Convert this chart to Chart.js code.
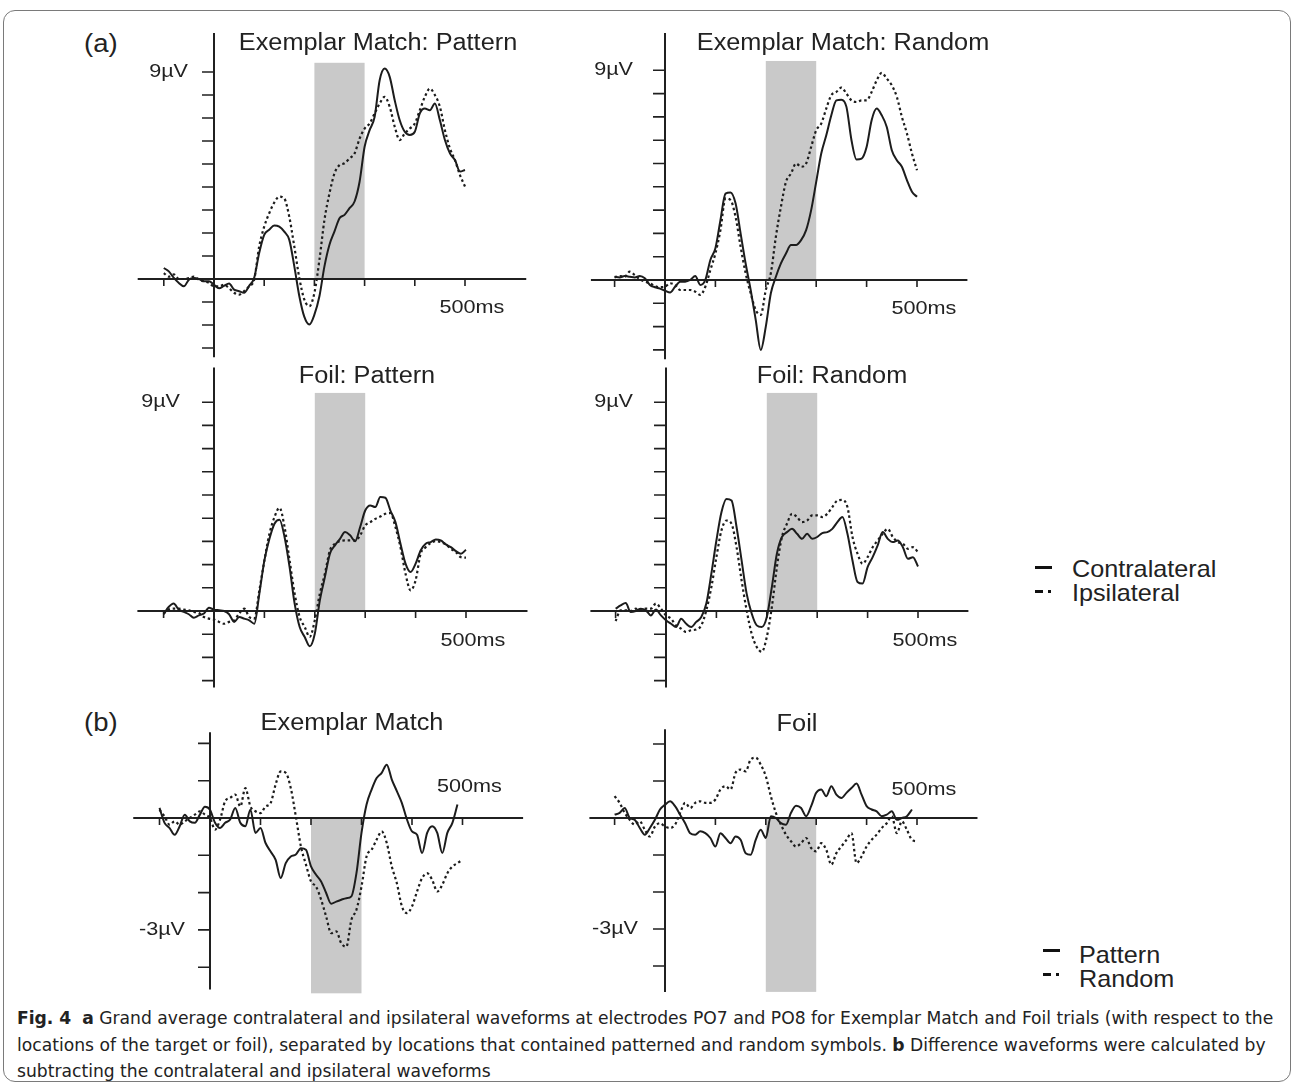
<!DOCTYPE html>
<html>
<head>
<meta charset="utf-8">
<script src="https://cdn.jsdelivr.net/npm/chart.js@4.4.1/dist/chart.umd.min.js"></script>
<style>
  body { margin: 0; background: #fff; }
  #page { position: relative; width: 1295px; height: 1086px; overflow: hidden; font-family: "Liberation Sans", Arial, sans-serif; color: #222; }
  #frame { position: absolute; left: 3px; top: 10px; width: 1288px; height: 1072px; border: 1.5px solid #7a7a7a; border-radius: 12px; box-sizing: border-box; }
  .panel { position: absolute; }
  .title { position: absolute; font-size: 23px; white-space: nowrap; transform: translate(-50%, -50%) scaleX(1.1); }
  .tag { position: absolute; font-size: 25px; white-space: nowrap; transform: translateY(-50%) scaleX(1.1); transform-origin: left center; }
  .leg { position: absolute; font-size: 24px; white-space: nowrap; transform: translateY(-50%) scaleX(1.05); transform-origin: left center; line-height: 1; }
  .sym { position: absolute; background: #111; height: 3px; }
  #caption { position: absolute; left: 17px; top: 1005px; font-family: "Liberation Sans Narrow", "DejaVu Sans Condensed", sans-serif; font-size: 17px; color: #222; transform-origin: left top; }
  #caption div { white-space: nowrap; height: 26.5px; line-height: 26.5px; }
</style>
</head>
<body>
<div id="page">
  <div id="frame"></div>
  <canvas id="c1" class="panel"></canvas>
  <canvas id="c2" class="panel"></canvas>
  <canvas id="c3" class="panel"></canvas>
  <canvas id="c4" class="panel"></canvas>
  <canvas id="c5" class="panel"></canvas>
  <canvas id="c6" class="panel"></canvas>

  <div class="tag" style="left:84px; top:43px;">(a)</div>
  <div class="tag" style="left:84px; top:722px;">(b)</div>

  <div class="title" style="left:378px; top:42px;">Exemplar Match: Pattern</div>
  <div class="title" style="left:843px; top:42px;">Exemplar Match: Random</div>
  <div class="title" style="left:367px; top:375px;">Foil: Pattern</div>
  <div class="title" style="left:832px; top:375px;">Foil: Random</div>
  <div class="title" style="left:352px; top:722px;">Exemplar Match</div>
  <div class="title" style="left:797px; top:723px;">Foil</div>

  <div class="sym" style="left:1035px; top:566px; width:17px;"></div>
  <div class="leg" style="left:1072px; top:569px;">Contralateral</div>
  <div class="sym" style="left:1035px; top:590px; width:8px;"></div>
  <div class="sym" style="left:1048px; top:590px; width:3px;"></div>
  <div class="leg" style="left:1072px; top:593px;">Ipsilateral</div>

  <div class="sym" style="left:1043px; top:949px; width:17px;"></div>
  <div class="leg" style="left:1079px; top:955px;">Pattern</div>
  <div class="sym" style="left:1043px; top:973px; width:8px;"></div>
  <div class="sym" style="left:1056px; top:973px; width:3px;"></div>
  <div class="leg" style="left:1079px; top:979px;">Random</div>

  <div id="caption">
    <div id="capLine1"><b>Fig. 4</b>&nbsp; <b>a</b> Grand average contralateral and ipsilateral waveforms at electrodes PO7 and PO8 for Exemplar Match and Foil trials (with respect to the</div>
    <div>locations of the target or foil), separated by locations that contained patterned and random symbols. <b>b</b> Difference waveforms were calculated by</div>
    <div>subtracting the contralateral and ipsilateral waveforms</div>
  </div>
</div>

<script>
// sample times (ms)
const times = [-100, -90, -80, -70, -60, -50, -40, -30, -20, -10,
  0, 10, 20, 30, 40, 50, 60, 70, 80, 90,
  100, 110, 120, 130, 140, 150, 160, 170, 180, 190,
  200, 210, 220, 230, 240, 250, 260, 270, 280, 290,
  300, 310, 320, 330, 340, 350, 360, 370, 380, 390,
  400, 410, 420, 430, 440, 450, 460, 470, 480, 490, 500];

// (a) Exemplar Match: Pattern (µV)
const emPatternContra = [0.48, 0.33, 0.05, -0.17, -0.32, -0.03, 0.04, 0, -0.1, -0.1,
  -0.25, -0.4, -0.3, -0.2, -0.46, -0.53, -0.6, -0.3, 0.05, 1.13,
  1.92, 2.14, 2.33, 2.28, 2.06, 1.7, 0.55, -0.75, -1.65, -1.98,
  -1.55, -0.75, 0.55, 1.49, 2.07, 2.64, 2.79, 3.08, 3.37, 4.23,
  5.75, 6.47, 7.05, 8.64, 9.15, 8.79, 7.77, 6.9, 6.4, 6.26,
  6.4, 7.2, 7.41, 7.34, 7.63, 6.9, 6.04, 5.46, 5.17, 4.67, 4.74];
const emPatternIpsi = [0.26, 0.1, 0.2, 0, 0, 0.04, 0.1, -0.03, -0.1, -0.17,
  -0.32, -0.32, -0.25, -0.4, -0.6, -0.68, -0.53, -0.32, -0.03, 1.41,
  2.28, 2.86, 3.32, 3.58, 3.5, 2.7, 1.41, 0.04, -0.9, -1.18,
  -0.6, 0.83, 2.57, 3.72, 4.59, 4.95, 5.03, 5.24, 5.46, 6.1,
  6.54, 6.76, 7.2, 7.63, 7.92, 7.49, 6.62, 6.04, 6.33, 6.54,
  6.76, 7.34, 7.92, 8.28, 8.0, 7.49, 6.47, 5.68, 5.17, 4.52, 4.02];

// (a) Exemplar Match: Random
const emRandomContra = [0.14, 0.11, 0.17, 0.14, 0.11, 0.17, 0.07, -0.21, -0.31, -0.37,
  -0.46, -0.54, -0.29, -0.07, -0.07, 0, 0.17, -0.21, 0, 0.86,
  1.36, 2.57, 3.71, 3.76, 3.29, 2.0, 0.71, -0.43, -1.71, -3.0,
  -2.0, -0.57, 0.14, 0.71, 1.14, 1.5, 1.5, 1.71, 2.14, 3.0,
  4.21, 5.43, 6.21, 7.07, 7.71, 7.74, 7.43, 6.0, 5.17, 5.21,
  5.71, 6.86, 7.36, 7.07, 6.57, 5.57, 5.14, 4.86, 4.29, 3.79, 3.57];
const emRandomIpsi = [0.11, 0.17, 0.14, 0.36, 0.21, 0.03, -0.07, -0.14, -0.26, -0.31,
  -0.29, -0.14, -0.21, -0.43, -0.43, -0.43, -0.5, -0.64, -0.29, 0.43,
  1.14, 2.14, 3.5, 3.43, 2.71, 1.43, 0.29, -0.57, -1.29, -1.5,
  -0.43, 0.29, 1.86, 3.14, 4.21, 4.57, 5.0, 4.86, 5.0, 5.71,
  6.43, 6.71, 7.36, 7.93, 8.07, 8.26, 8.0, 7.71, 7.64, 7.71,
  7.71, 8.07, 8.57, 8.89, 8.64, 8.36, 7.86, 7.0, 6.29, 5.43, 4.71];

// (a) Foil: Pattern
const foilPatternContra = [-0.14, 0.17, 0.32, 0.06, -0.04, -0.14, -0.29, -0.19, -0.11, 0.14,
  0.06, 0.03, 0, -0.14, -0.47, -0.26, -0.33, -0.4, -0.55, 0.75,
  2.18, 3.11, 3.76, 3.93, 3.19, 1.89, 0.32, -0.69, -1.12, -1.52,
  -0.98, 0.46, 1.46, 2.47, 2.83, 3.11, 3.4, 3.26, 3.01, 3.62,
  4.33, 4.55, 4.48, 4.91, 4.88, 4.33, 3.83, 2.9, 2.04, 1.68,
  2.04, 2.61, 2.9, 2.97, 3.08, 3.04, 2.87, 2.75, 2.58, 2.47, 2.64];
const foilPatternIpsi = [-0.11, 0.06, 0.1, 0.1, 0.06, 0.03, -0.04, -0.09, -0.26, -0.33,
  -0.37, -0.47, -0.55, -0.47, -0.4, -0.11, 0.1, -0.26, -0.33, 0.89,
  2.18, 3.33, 4.05, 4.45, 3.62, 2.18, 0.75, -0.26, -0.69, -1.12,
  -0.4, 0.75, 1.61, 2.61, 2.9, 3.01, 3.04, 3.04, 3.04, 3.26,
  3.69, 3.83, 3.97, 4.07, 4.19, 4.22, 3.62, 2.75, 1.61, 0.89,
  1.32, 2.47, 2.75, 2.93, 3.01, 2.97, 2.87, 2.68, 2.54, 2.32, 2.3];

// (a) Foil: Random
const foilRandomContra = [0.1, 0.24, 0.34, -0.04, 0, 0.1, 0.03, -0.19, 0.06, -0.19,
  -0.4, -0.55, -0.69, -0.33, -0.55, -0.69, -0.47, -0.26, 0.32, 1.61,
  3.04, 4.26, 4.83, 4.76, 3.62, 2.18, 0.75, -0.11, -0.62, -0.69,
  -0.26, 1.03, 2.47, 3.19, 3.4, 3.54, 3.33, 3.11, 3.33, 3.11,
  3.19, 3.36, 3.4, 3.54, 3.83, 4.05, 3.33, 2.18, 1.25, 1.18,
  1.89, 2.32, 2.83, 3.4, 3.11, 2.97, 3.04, 2.75, 2.25, 2.32, 1.92];
const foilRandomIpsi = [-0.43, 0.03, 0.03, 0, 0.1, 0.03, 0.1, 0.1, 0.32, 0.1,
  -0.19, -0.33, -0.62, -0.76, -0.9, -0.83, -0.8, -0.62, 0.03, 1.03,
  2.32, 3.47, 3.9, 3.76, 2.75, 1.32, 0.03, -0.98, -1.55, -1.76,
  -1.12, 0.17, 1.89, 3.19, 3.76, 4.19, 4.05, 3.83, 3.9, 4.12,
  4.12, 4.05, 4.19, 4.48, 4.76, 4.79, 4.48, 3.19, 2.47, 2.04,
  2.32, 2.75, 3.04, 3.33, 3.54, 3.19, 2.97, 2.9, 2.68, 2.75, 2.54];

// (b) difference waves, Exemplar Match
const diffEmPattern = [0.27, -0.13, -0.27, -0.45, -0.22, 0.09, -0.09, -0.13, 0.09, 0.3,
  0.22, -0.13, -0.27, -0.13, -0.04, 0.27, -0.13, -0.22, 0.22, -0.4,
  -0.27, -0.67, -0.9, -1.12, -1.61, -1.21, -1.03, -0.98, -0.81, -0.85,
  -1.3, -1.52, -1.7, -2.01, -2.3, -2.24, -2.19, -2.15, -2.1, -1.48,
  -0.4, 0.36, 0.76, 1.07, 1.21, 1.43, 1.03, 0.72, 0.4, -0.04,
  -0.36, -0.45, -0.94, -0.4, -0.22, -0.4, -0.94, -0.4, -0.13, 0.36, null];
const diffEmRandom = [0.22, 0.04, -0.18, -0.09, -0.18, -0.09, 0, 0.09, 0.18, 0.09,
  0, -0.31, -0.04, 0.45, 0.54, 0.63, 0.31, 0.8, 0.31, 0.18,
  0.13, 0.31, 0.4, 0.9, 1.25, 1.21, 0.8, 0.04, -0.76, -1.25,
  -1.7, -1.84, -2.19, -2.64, -3.09, -3.04, -3.36, -3.45, -2.73, -2.46,
  -1.84, -1.03, -0.85, -0.58, -0.36, -0.67, -1.3, -1.75, -2.37, -2.55,
  -2.37, -1.97, -1.61, -1.48, -1.66, -1.97, -1.79, -1.48, -1.3, -1.21, -1.12];

// (b) difference waves, Foil
const diffFoilPattern = [0.09, 0.14, 0.27, 0, -0.05, -0.27, -0.45, -0.27, -0.05, 0.23,
  0.36, 0.45, 0.32, 0.09, -0.14, -0.41, -0.45, -0.36, -0.41, -0.54,
  -0.77, -0.41, -0.54, -0.68, -0.5, -0.59, -0.95, -0.99, -0.59, -0.32,
  -0.54, 0.05, 0, -0.14, -0.18, 0.14, 0.33, 0.27, 0.05, 0.32,
  0.68, 0.77, 0.59, 0.86, 0.63, 0.54, 0.68, 0.81, 0.93, 0.63,
  0.32, 0.23, 0.18, 0.05, 0.09, 0.18, -0.05, 0, 0.05, 0.23, null];
const diffFoilRandom = [0.59, 0.41, 0.14, -0.05, -0.18, -0.09, -0.32, -0.5, -0.23, -0.14,
  -0.23, -0.27, -0.18, 0.14, 0.41, 0.27, 0.41, 0.45, 0.41, 0.41,
  0.5, 0.77, 0.86, 0.77, 1.22, 1.31, 1.26, 1.58, 1.63, 1.44,
  1.13, 0.59, 0.14, -0.18, -0.45, -0.63, -0.77, -0.68, -0.54, -0.81,
  -0.9, -0.68, -0.86, -1.26, -0.95, -0.77, -0.59, -0.41, -1.22, -1.04,
  -0.77, -0.59, -0.45, -0.27, -0.14, 0.05, -0.41, -0.09, -0.32, -0.59, -0.63];

// axis ticks and labels
const xTicks = [-100, 0, 100, 200, 300, 400, 500];
const yTicksA = [-3, -2, -1, 0, 1, 2, 3, 4, 5, 6, 7, 8, 9];
const yTicksB = [-4, -3, -2, -1, 0, 1, 2];
const xTickLabel = '500ms';
const yTickLabelA = '9µV';
const yTickLabelB = '-3µV';
const analysisWindow = [200, 300];

const INK = '#1c1c1c';

// one line per panel: canvas box in page px, origin px, px per ms, px per µV
const panels = [
  { id: 'c1', left: 120, top: 20, w: 420, h: 345, x0: 214, y0: 279, pxMs: 0.502, pxUV: 23.0,
    a: emPatternContra, b: emPatternIpsi, ticks: yTicksA, yAxis: [-3.4, 10.7], xAxis: [-152, 622],
    shade: [0, 9.4], yLab: [9, yTickLabelA, 26], xLabDy: 29 },
  { id: 'c2', left: 575, top: 20, w: 420, h: 345, x0: 665, y0: 280, pxMs: 0.504, pxUV: 23.3,
    a: emRandomContra, b: emRandomIpsi, ticks: yTicksA, yAxis: [-3.4, 10.6], xAxis: [-147, 600],
    shade: [0, 9.4], yLab: [9, yTickLabelA, 32], xLabDy: 29 },
  { id: 'c3', left: 120, top: 360, w: 420, h: 340, x0: 214, y0: 611, pxMs: 0.504, pxUV: 23.2,
    a: foilPatternContra, b: foilPatternIpsi, ticks: yTicksA, yAxis: [-3.3, 10.5], xAxis: [-152, 622],
    shade: [0, 9.4], yLab: [9, yTickLabelA, 34], xLabDy: 30 },
  { id: 'c4', left: 575, top: 360, w: 420, h: 340, x0: 666, y0: 611, pxMs: 0.504, pxUV: 23.2,
    a: foilRandomContra, b: foilRandomIpsi, ticks: yTicksA, yAxis: [-3.3, 10.5], xAxis: [-150, 600],
    shade: [0, 9.4], yLab: [9, yTickLabelA, 33], xLabDy: 30 },
  { id: 'c5', left: 120, top: 700, w: 420, h: 300, x0: 210, y0: 818, pxMs: 0.505, pxUV: 37.3,
    a: diffEmPattern, b: diffEmRandom, ticks: yTicksB, yAxis: [-4.6, 2.3], xAxis: [-152, 620],
    shade: [0, -4.7], yLab: [-3, yTickLabelB, 25], xLabDy: -31 },
  { id: 'c6', left: 575, top: 700, w: 420, h: 300, x0: 665, y0: 818, pxMs: 0.504, pxUV: 37.0,
    a: diffFoilPattern, b: diffFoilRandom, ticks: yTicksB, yAxis: [-4.7, 2.4], xAxis: [-150, 620],
    shade: [0, -4.7], yLab: [-3, yTickLabelB, 27], xLabDy: -28 }
];

function stretchText(ctx, txt, x, y, sx) {
  ctx.save();
  ctx.translate(x, y);
  ctx.scale(sx, 1);
  ctx.fillText(txt, 0, 0);
  ctx.restore();
}

const eegAxes = {
  id: 'eegAxes',
  beforeDatasetsDraw(chart, args, o) {
    const { ctx } = chart;
    const x = chart.scales.x, y = chart.scales.y;
    const X0 = x.getPixelForValue(0), Y0 = y.getPixelForValue(0);
    ctx.save();
    // grey analysis window
    ctx.fillStyle = '#c9c9c9';
    const sx0 = x.getPixelForValue(analysisWindow[0]), sx1 = x.getPixelForValue(analysisWindow[1]);
    const sy0 = y.getPixelForValue(o.shade[0]), sy1 = y.getPixelForValue(o.shade[1]);
    ctx.fillRect(sx0, Math.min(sy0, sy1), sx1 - sx0, Math.abs(sy1 - sy0));

    ctx.strokeStyle = '#202020';
    ctx.lineWidth = 2;
    ctx.beginPath();
    ctx.moveTo(X0, y.getPixelForValue(o.yAxis[1]));
    ctx.lineTo(X0, y.getPixelForValue(o.yAxis[0]));
    ctx.moveTo(x.getPixelForValue(o.xAxis[0]), Y0);
    ctx.lineTo(x.getPixelForValue(o.xAxis[1]), Y0);
    ctx.stroke();

    ctx.lineWidth = 1.6;
    ctx.beginPath();
    o.ticks.forEach(v => {
      const py = y.getPixelForValue(v);
      ctx.moveTo(X0 - 12, py);
      ctx.lineTo(X0, py);
    });
    xTicks.forEach(t => {
      const px = x.getPixelForValue(t);
      ctx.moveTo(px, Y0);
      ctx.lineTo(px, Y0 + 7);
    });
    ctx.stroke();

    ctx.fillStyle = '#222';
    ctx.font = '18px "Liberation Sans", Arial, sans-serif';
    ctx.textBaseline = 'middle';
    ctx.textAlign = 'right';
    stretchText(ctx, o.yLab[1], X0 - o.yLab[2], y.getPixelForValue(o.yLab[0]), 1.2);
    ctx.textAlign = 'center';
    stretchText(ctx, xTickLabel, x.getPixelForValue(500) + 7, Y0 + o.xLabDy, 1.2);
    ctx.restore();
  }
};

panels.forEach(p => {
  const cv = document.getElementById(p.id);
  cv.style.left = p.left + 'px';
  cv.style.top = p.top + 'px';
  cv.style.width = p.w + 'px';
  cv.style.height = p.h + 'px';
  cv.width = p.w;
  cv.height = p.h;

  const xMin = (p.left - p.x0) / p.pxMs;
  const xMax = (p.left + p.w - p.x0) / p.pxMs;
  const yMax = (p.y0 - p.top) / p.pxUV;
  const yMin = (p.y0 - p.top - p.h) / p.pxUV;

  const pts = vals => times.map((t, i) => ({ x: t, y: vals[i] })).filter(d => d.y !== null);

  new Chart(cv, {
    type: 'line',
    data: {
      datasets: [
        { label: 'solid', data: pts(p.a), borderColor: INK, borderWidth: 2, pointRadius: 0,
          cubicInterpolationMode: 'monotone', fill: false },
        { label: 'dotted', data: pts(p.b), borderColor: INK, borderWidth: 2.2, borderDash: [2.5, 2.8],
          pointRadius: 0, cubicInterpolationMode: 'monotone', fill: false }
      ]
    },
    options: {
      responsive: false,
      animation: false,
      layout: { padding: 0 },
      plugins: {
        legend: { display: false },
        tooltip: { enabled: false },
        eegAxes: { ticks: p.ticks, yAxis: p.yAxis, xAxis: p.xAxis, shade: p.shade, yLab: p.yLab, xLabDy: p.xLabDy }
      },
      scales: {
        x: { type: 'linear', min: xMin, max: xMax, display: false },
        y: { type: 'linear', min: yMin, max: yMax, display: false }
      }
    },
    plugins: [eegAxes]
  });
});

// squeeze caption to the width of the reference text block
const cap = document.getElementById('caption');
const l1 = document.getElementById('capLine1');
const w1 = l1.scrollWidth;
cap.style.transform = 'scaleX(' + (1256 / w1) + ')';
</script>
</body>
</html>
